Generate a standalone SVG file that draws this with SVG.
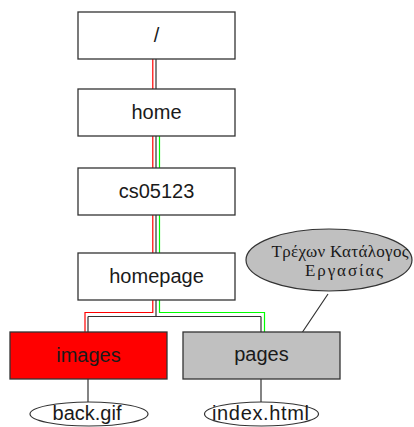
<svg xmlns="http://www.w3.org/2000/svg" width="414" height="427" viewBox="0 0 414 427">
  <style>
    .box { fill: #ffffff; stroke: #333333; stroke-width: 1.3; }
    .label { font-family: "Liberation Sans", Arial, sans-serif; font-size: 20px; fill: #1a1a1a; text-anchor: middle; }
    .file { fill: #ffffff; stroke: #333333; stroke-width: 1.2; }
    .note { fill: #c0c0c0; stroke: #333333; stroke-width: 1.2; }
    .greek { font-family: "Liberation Serif", "Times New Roman", serif; font-size: 17px; fill: #1a1a1a; text-anchor: middle; }
    .link { fill: none; stroke: #333333; stroke-width: 1.2; }
    .red { fill: none; stroke: #ff0000; stroke-width: 1.2; }
    .green { fill: none; stroke: #00ff00; stroke-width: 1.2; }
  </style>

  <!-- tree links and the two highlighted paths -->
  <g id="connectors">
    <!-- black tree edges -->
    <path class="link" d="M156 59 V89 M156 136 V168 M156 215 V253 M156 300 V316.5 M88 316.5 H261 M88 316.5 V332 M261 316.5 V332"/>
    <path class="link" d="M88 379 V402 M261 379 V402 M328 294 L302.5 332"/>
    <!-- red path: / -> images -->
    <path class="red" d="M152.8 59 V89 M152.8 136 V168 M152.8 215 V253 M152.8 300 V312.5 H85 V332"/>
    <!-- green path: home -> pages -->
    <path class="green" d="M159.5 136 V168 M159.5 215 V253 M159.5 300 V312.5 H264.5 V332"/>
  </g>

  <g id="root">
    <rect class="box" x="78" y="12" width="157" height="47"/>
    <text class="label" x="156.5" y="42">/</text>
  </g>

  <g id="home">
    <rect class="box" x="78" y="89" width="157" height="47"/>
    <text class="label" x="156.5" y="119">home</text>
  </g>

  <g id="cs05123">
    <rect class="box" x="78" y="168" width="157" height="47"/>
    <text class="label" x="156.5" y="198">cs05123</text>
  </g>

  <g id="homepage">
    <rect class="box" x="78" y="253" width="157" height="47"/>
    <text class="label" x="156.5" y="283">homepage</text>
  </g>

  <g id="images">
    <rect class="box" x="10" y="332" width="157" height="47" style="fill:#ff0000"/>
    <text class="label" x="88.5" y="362">images</text>
  </g>

  <g id="pages">
    <rect class="box" x="183" y="332" width="157" height="47" style="fill:#c0c0c0"/>
    <text class="label" x="261.5" y="361">pages</text>
  </g>

  <g id="back-gif">
    <ellipse class="file" cx="89" cy="414" rx="59" ry="12"/>
    <text class="label" x="87" y="420">back.gif</text>
  </g>

  <g id="index-html">
    <ellipse class="file" cx="261.5" cy="414" rx="57" ry="12"/>
    <text class="label" x="260.5" y="420" textLength="97" lengthAdjust="spacing">index.html</text>
  </g>

  <g id="working-dir-note">
    <ellipse class="note" cx="329" cy="260" rx="83" ry="31"/>
    <text class="greek" x="340" y="257" textLength="137" lengthAdjust="spacing">Τρέχων Κατάλογος</text>
    <text class="greek" x="344" y="276" textLength="78" lengthAdjust="spacing">Εργασίας</text>
  </g>
</svg>
